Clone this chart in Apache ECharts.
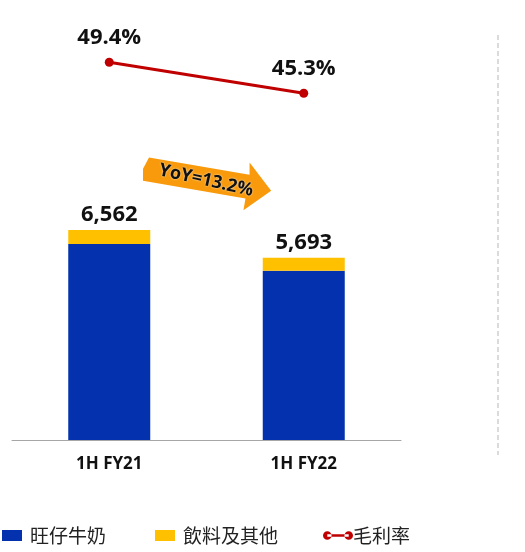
<!DOCTYPE html>
<html>
<head>
<meta charset="utf-8">
<script src="https://cdn.jsdelivr.net/npm/echarts@6/dist/echarts.min.js"></script>
<style>
html, body { margin: 0; padding: 0; background: #fff; }
#main { width: 525px; height: 552px; }
</style>
</head>
<body>
<div id="main"></div>
<script>
// data
const categories = ['1H FY21', '1H FY22'];
const milkValues = [6125, 5287];      // 旺仔牛奶
const drinkValues = [437, 406];       // 飲料及其他
const totals = [6562, 5693];
const marginValues = [49.4, 45.3];    // 毛利率 (%)
const yoyText = 'YoY=13.2%';

const numFont = '"Open Sans", "Noto Sans", sans-serif';
const cjkFont = '"Noto Sans CJK TC", "Noto Sans CJK SC", sans-serif';

const myChart = echarts.init(document.getElementById('main'));

const legendText = { fontSize: 19, color: '#222', fontFamily: cjkFont, padding: [0, 0, 0, 3] };

const option = {
    animation: false,
    backgroundColor: '#fff',
    grid: {
        top: 20,
        left: 12,
        right: 124,
        bottom: 112
    },
    legend: [
        {
            data: ['旺仔牛奶'],
            left: 2,
            top: 526,
            padding: 0,
            itemWidth: 20,
            itemHeight: 11,
            icon: 'rect',
            textStyle: legendText
        },
        {
            data: ['飲料及其他'],
            left: 155,
            top: 526,
            padding: 0,
            itemWidth: 20,
            itemHeight: 11,
            icon: 'rect',
            textStyle: legendText
        },
        {
            data: ['毛利率'],
            left: 323,
            top: 526,
            padding: 0,
            itemWidth: 30,
            itemHeight: 11,
            icon: 'path://M0,5a5,5 0 1,0 10,0a5,5 0 1,0 -10,0M25,5a5,5 0 1,0 10,0a5,5 0 1,0 -10,0M5,3.6h25v2.8h-25z',
            itemStyle: { color: '#C00000', borderWidth: 0 },
            textStyle: { fontSize: 19, color: '#222', fontFamily: cjkFont, padding: [0, 0, 0, -5] }
        }
    ],
    xAxis: {
        type: 'category',
        data: categories,
        axisLine: { lineStyle: { color: '#a6a6a6', width: 1 } },
        axisTick: { show: false },
        axisLabel: {
            margin: 16,
            fontSize: 17,
            fontWeight: 'bold',
            color: '#111',
            fontFamily: numFont
        }
    },
    yAxis: [
        { type: 'value', min: 0, max: 13124, show: false },
        { type: 'value', min: -0.6, max: 55, show: false }
    ],
    series: [
        {
            name: '旺仔牛奶',
            type: 'bar',
            stack: 'sales',
            barWidth: 82,
            itemStyle: { color: '#0432AE' },
            data: milkValues
        },
        {
            name: '飲料及其他',
            type: 'bar',
            stack: 'sales',
            barWidth: 82,
            itemStyle: { color: '#FFC000' },
            label: {
                show: true,
                position: 'top',
                distance: 4,
                fontSize: 22,
                fontWeight: 'bold',
                color: '#111',
                fontFamily: numFont,
                formatter: function (p) {
                    return totals[p.dataIndex].toLocaleString('en-US');
                }
            },
            data: drinkValues
        },
        {
            name: '毛利率',
            type: 'line',
            yAxisIndex: 1,
            symbol: 'circle',
            symbolSize: 9,
            lineStyle: { color: '#C00000', width: 3 },
            itemStyle: { color: '#C00000' },
            label: {
                show: true,
                position: 'top',
                distance: 9,
                fontSize: 22,
                fontWeight: 'bold',
                color: '#111',
                fontFamily: numFont,
                formatter: '{c}%'
            },
            data: marginValues
        }
    ],
    graphic: [
        {
            type: 'line',
            shape: { x1: 498, y1: 35, x2: 498, y2: 455 },
            style: { stroke: '#d0d0d0', lineWidth: 1.5, lineDash: [5, 3] },
            silent: true
        },
        {
            type: 'group',
            x: 145,
            y: 169,
            rotation: -0.17,
            children: [
                {
                    type: 'polygon',
                    shape: {
                        points: [[2, -12], [104, -12], [102, -24], [128, 0], [104, 24], [104, 12], [0, 12], [-2, 0]]
                    },
                    style: { fill: '#F89A0C' }
                },
                {
                    type: 'text',
                    x: 62,
                    y: 1,
                    rotation: -0.05,
                    style: {
                        text: yoyText,
                        fontSize: 18,
                        fontWeight: 'bold',
                        fontFamily: numFont,
                        fill: '#111',
                        align: 'center',
                        verticalAlign: 'middle',
                        textShadowColor: 'rgba(255,255,255,0.9)',
                        textShadowBlur: 2
                    }
                }
            ]
        }
    ]
};

myChart.setOption(option);
</script>
</body>
</html>
